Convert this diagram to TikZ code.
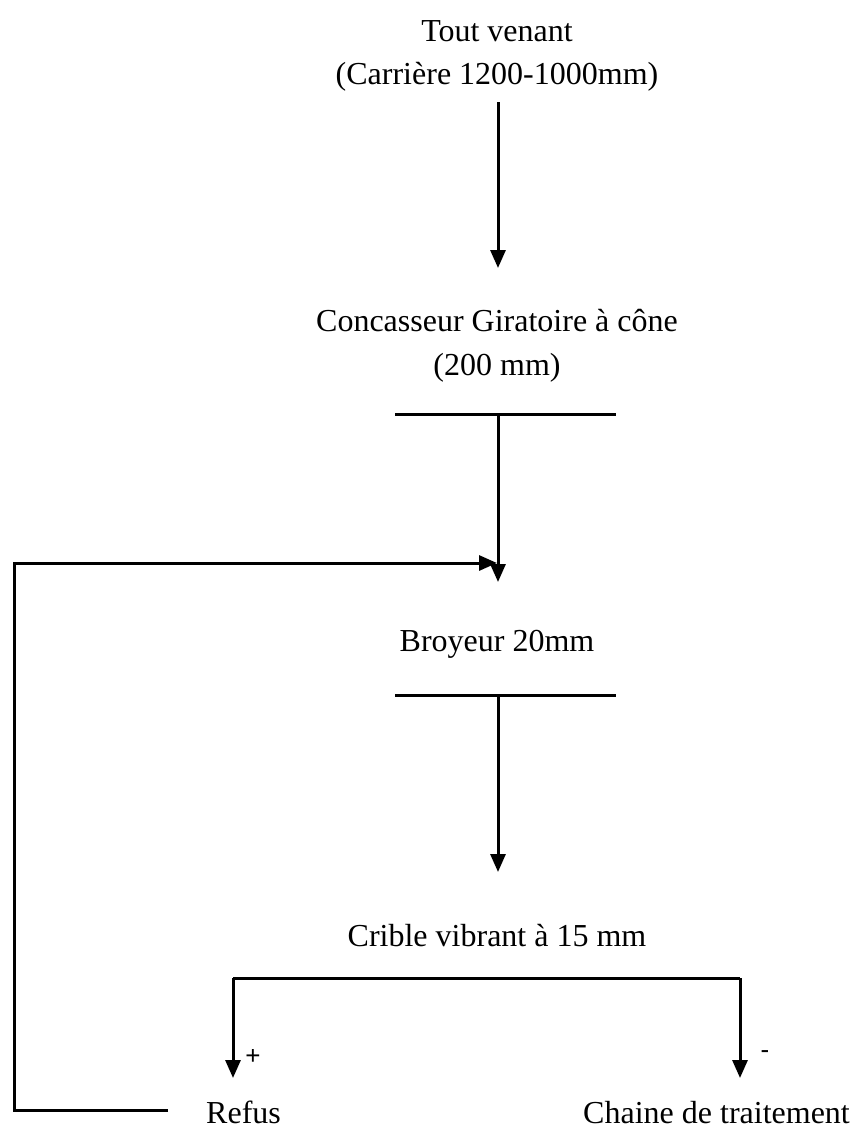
\documentclass[tikz,border=0pt]{standalone}
\usepackage{fontspec}
\setmainfont{Liberation Serif}
\newfontfamily\sansf{Liberation Sans}
\usetikzlibrary{arrows.meta}
\begin{document}
\begin{tikzpicture}[x=1pt,y=-1pt,
  lbl/.style={font=\fontsize{32}{38}\selectfont, inner sep=0pt, anchor=base},
  sgn/.style={font=\sansf\fontsize{26}{30}\selectfont, inner sep=0pt},
  ln/.style={line width=3pt},
  arr/.style={line width=3pt, -{Triangle[length=18pt,width=15pt]}}]
\useasboundingbox (0,0) rectangle (852,1133);
% top
\node[lbl] (tv) at (497,41) {Tout venant};
\node[lbl] (car) at (497,84) {(Carrière 1200-1000mm)};
\coordinate (a1s) at (498,102);
\coordinate (a1e) at (498,268);
\draw[arr] (a1s) -- (a1e);
% concasseur
\node[lbl] (conc) at (497,331) {Concasseur Giratoire à cône};
\node[lbl] (c200) at (497,375) {(200 mm)};
\coordinate (b1l) at (395,414);
\coordinate (b1r) at (616,414);
\coordinate (b1m) at (498,414);
\coordinate (a2e) at (498,582);
\draw[ln] (b1l) -- (b1r);
\draw[arr] (b1m) -- (a2e);
% broyeur
\node[lbl] (broy) at (497,651) {Broyeur 20mm};
\coordinate (b2l) at (395,695);
\coordinate (b2r) at (616,695);
\coordinate (b2m) at (498,695);
\coordinate (a3e) at (498,872);
\draw[ln] (b2l) -- (b2r);
\draw[arr] (b2m) -- (a3e);
% crible
\node[lbl] (crib) at (497,946) {Crible vibrant à 15 mm};
\coordinate (k1) at (233,978);
\coordinate (k2) at (740,978);
\coordinate (k1e) at (233,1078);
\coordinate (k2e) at (740,1078);
\draw[ln] (k1) -- (k2);
\draw[arr] (k1) -- (k1e);
\draw[arr] (k2) -- (k2e);
\node[sgn] (plus) at (253,1057) {+};
\node[sgn] (minus) at (765,1055) {-};
% outputs
\node[lbl, anchor=base west] (ref) at (206,1123) {Refus};
\node[lbl, anchor=base east] (chain) at (850,1123) {Chaine de traitement};
% loop back
\coordinate (l1) at (168,1110);
\coordinate (l2) at (14,1110);
\coordinate (l3) at (14,563);
\coordinate (l4) at (497,563);
\draw[arr] (l1) -- (l2) -- (l3) -- (l4);
\end{tikzpicture}
\end{document}
